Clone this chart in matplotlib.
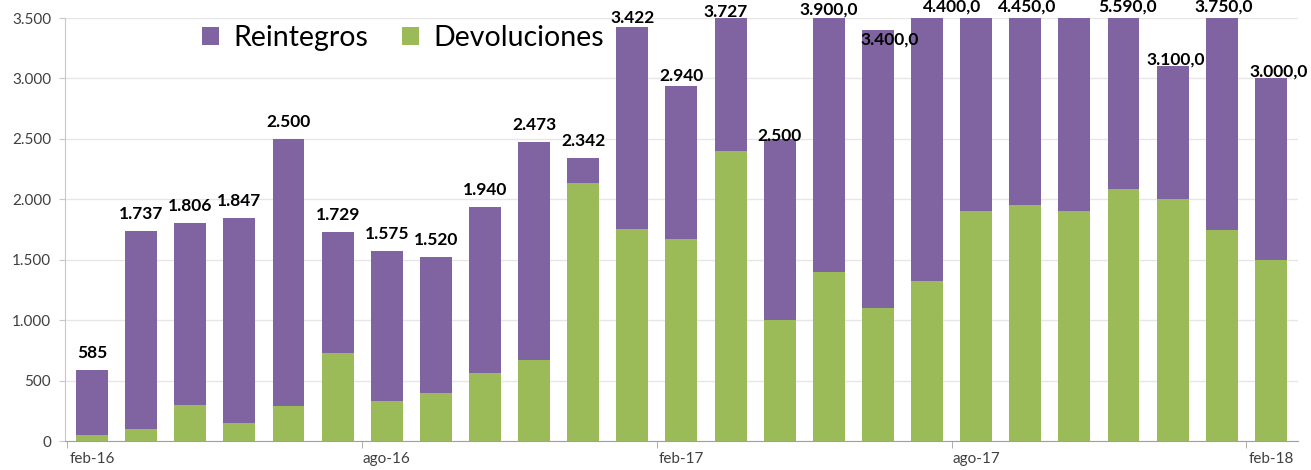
import matplotlib
matplotlib.use("Agg")
import matplotlib.pyplot as plt
from matplotlib.ticker import FuncFormatter, FixedLocator

plt.rcParams['font.family'] = ['Lato', 'DejaVu Sans']

# datos (feb-16 .. feb-18)
meses = ['feb-16', 'mar-16', 'abr-16', 'may-16', 'jun-16', 'jul-16', 'ago-16', 'sep-16',
         'oct-16', 'nov-16', 'dic-16', 'ene-17', 'feb-17', 'mar-17', 'abr-17', 'may-17',
         'jun-17', 'jul-17', 'ago-17', 'sep-17', 'oct-17', 'nov-17', 'dic-17', 'ene-18', 'feb-18']
totales = [585, 1737, 1806, 1847, 2500, 1729, 1575, 1520, 1940, 2473, 2342, 3422, 2940,
           3727, 2500, 3900, 3400, 4400, 4800, 4450, 5000, 5590, 3100, 3750, 3000]
devoluciones = [50, 100, 300, 150, 290, 730, 330, 400, 560, 670, 2135, 1755, 1670,
                2400, 1000, 1400, 1100, 1325, 1900, 1950, 1900, 2085, 2000, 1750, 1500]
reintegros = [t - d for t, d in zip(totales, devoluciones)]
# etiquetas visibles (False = fuera del grafico) y decimales usados
con_etiqueta = [True] * 18 + [False, True, False, True, True, True, True]
decimales = [0] * 15 + [1] * 10

# desplazamiento manual de las etiquetas (pixeles), como en el original
dx_etiqueta = [0] * 13 + [-5, 0, 0, 12, 25, 0, 2, 0, 4, 3, 2, 8]
dy_etiqueta = [17] * 11 + [9, 10, 6, 3, 8, -9, 11, 0, 11, 0, 11, 7, 11, 7]

morado = '#8064A2'
verde = '#9BBB59'
ymax = 3500

def miles(v, dec=0):
    s = f"{v:,.{dec}f}"
    return s.replace(',', 'X').replace('.', ',').replace('X', '.')

fig = plt.figure(figsize=(13.11, 4.70), dpi=100)
ax = fig.add_axes([0.0496, 0.0617, 0.9404, 0.9])

x = list(range(len(meses)))
ax.bar(x, devoluciones, width=0.65, color=verde, label='Devoluciones', zorder=2)
ax.bar(x, reintegros, width=0.65, bottom=devoluciones, color=morado, label='Reintegros', zorder=2)

for i, t in enumerate(totales):
    if not con_etiqueta[i]:
        continue
    y = min(t, ymax)
    ax.annotate(miles(t, decimales[i]), (i, y), xytext=(dx_etiqueta[i], dy_etiqueta[i]),
                textcoords='offset pixels', ha='center', va='center', fontsize=12.5,
                fontweight='bold', color='black', annotation_clip=False, zorder=3)

ax.set_xlim(-0.55, 24.55)
ax.set_ylim(0, ymax)
ax.set_yticks(range(0, 3501, 500))
ax.yaxis.set_major_formatter(FuncFormatter(lambda v, p: miles(v)))
ax.grid(axis='y', color='#E6E6E6', linewidth=1, zorder=0)

ax.set_xticks(x[::6])
ax.set_xticklabels(meses[::6])
ax.xaxis.set_minor_locator(FixedLocator([-0.5, 5.5, 11.5, 17.5, 23.5]))
ax.tick_params(axis='x', which='major', length=0, pad=8, labelsize=11, labelcolor='#404040')
ax.tick_params(axis='x', which='minor', length=5, color='#A0A0A0')
ax.tick_params(axis='y', length=4, color='#C8C8C8', labelsize=11, labelcolor='#404040', pad=6)

for s in ['top', 'right']:
    ax.spines[s].set_visible(False)
ax.spines['left'].set_color('#C8C8C8')
ax.spines['bottom'].set_color('#A0A0A0')

h, l = ax.get_legend_handles_labels()
leg = ax.legend(h[::-1], l[::-1], loc='upper left', bbox_to_anchor=(0.09, 1.043), ncol=2,
                frameon=False, fontsize=20.5, handlelength=0.6, handleheight=0.6,
                handletextpad=0.5, columnspacing=1.2)

fig.savefig('out.png', dpi=100)
